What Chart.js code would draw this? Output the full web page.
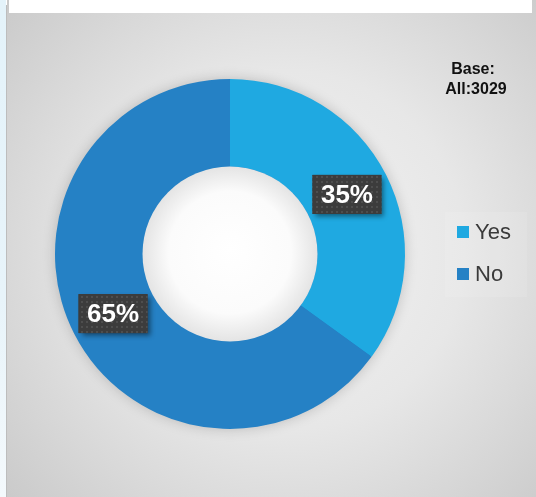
<!DOCTYPE html>
<html><head><meta charset="utf-8">
<script src="https://cdn.jsdelivr.net/npm/chart.js@4.4.0/dist/chart.umd.min.js"></script>
<style>html,body{margin:0;padding:0;background:#fff;}#wrap{width:536px;height:497px;position:relative;}</style>
</head><body><div id="wrap"><canvas id="c" width="536" height="497"></canvas></div>
<script>
const categories = ["Yes", "No"];
const values = [35, 65];
const colors = ["#1FA9E1", "#2581C5"];
const baseLines = ["Base:", "All:3029"];

function makePattern(ctx){
  const p = document.createElement('canvas'); p.width = 5; p.height = 5;
  const g = p.getContext('2d');
  g.fillStyle = '#3c3c3c'; g.fillRect(0,0,5,5);
  g.fillStyle = '#4e4e4e'; g.fillRect(1,1,2,2);
  return ctx.createPattern(p,'repeat');
}

const bgPlugin = {
  id:'bg',
  beforeDraw(chart){
    const ctx = chart.ctx; const W = chart.width, H = chart.height;
    ctx.save();
    ctx.fillStyle = '#ffffff'; ctx.fillRect(0,0,W,H);
    const lg = ctx.createLinearGradient(0,0,0,H);
    lg.addColorStop(0,'#e4f3fa'); lg.addColorStop(0.6,'#e8f4fa'); lg.addColorStop(1,'#f4f9fc');
    ctx.fillStyle = lg; ctx.fillRect(0,0,6,H);
    ctx.fillStyle = '#bdbdbd'; ctx.fillRect(6,5,2,H-5);
    const rg = ctx.createRadialGradient(285,250,0,285,250,400);
    rg.addColorStop(0,'#f3f3f3'); rg.addColorStop(0.45,'#e7e7e7'); rg.addColorStop(1,'#c6c6c6');
    ctx.fillStyle = rg; ctx.fillRect(7,0,W-7,H);
    ctx.fillStyle = '#ffffff'; ctx.fillRect(9,0,523,13);
    ctx.restore();
  },
  beforeDatasetsDraw(chart){
    const arc = chart.getDatasetMeta(0).data[0];
    if(!arc) return;
    const ctx = chart.ctx;
    ctx.save();
    ctx.shadowColor = 'rgba(0,0,0,0.22)'; ctx.shadowBlur = 14;
    ctx.fillStyle = '#2581C5';
    ctx.beginPath(); ctx.arc(arc.x, arc.y, arc.outerRadius-1, 0, Math.PI*2); ctx.fill();
    ctx.restore();
  },
  afterDatasetsDraw(chart){
    const arc = chart.getDatasetMeta(0).data[0];
    if(!arc) return;
    const ctx = chart.ctx;
    ctx.save();
    const r = arc.innerRadius;
    const g = ctx.createRadialGradient(arc.x, arc.y-5, 0, arc.x, arc.y, r);
    g.addColorStop(0,'#ffffff'); g.addColorStop(0.7,'#fbfbfb'); g.addColorStop(1,'#e4e4e4');
    ctx.fillStyle = g;
    ctx.beginPath(); ctx.arc(arc.x, arc.y, r, 0, Math.PI*2); ctx.fill();
    ctx.restore();
  },
  afterDraw(chart){
    const ctx = chart.ctx;
    ctx.save();
    ctx.fillStyle = '#111'; ctx.font = 'bold 16px "Liberation Sans", Arial, sans-serif';
    ctx.textAlign = 'center'; ctx.textBaseline = 'middle';
    ctx.fillText(baseLines[0], 473, 70);
    ctx.fillText(baseLines[1], 476, 90);
    ctx.fillStyle = 'rgba(255,255,255,0.1)'; ctx.fillRect(445,212,82,85);
    ctx.font = '22px "Liberation Sans", Arial, sans-serif'; ctx.textAlign='left';
    categories.forEach((c,i)=>{
      const y = 232 + i*42;
      ctx.fillStyle = colors[i]; ctx.fillRect(457,y-6,12,12);
      ctx.fillStyle = '#3a3a3a'; ctx.fillText(c, 475, y+1);
    });
    const meta = chart.getDatasetMeta(0);
    const pat = makePattern(ctx);
    const total = values.reduce((a,b)=>a+b,0);
    meta.data.forEach((arc,i)=>{
      const p = arc.tooltipPosition();
      const txt = Math.round(values[i]/total*100)+'%';
      const w = 69, h = 39;
      ctx.save();
      ctx.shadowColor = 'rgba(0,0,0,0.45)'; ctx.shadowBlur = 5; ctx.shadowOffsetX = 3; ctx.shadowOffsetY = 3;
      ctx.fillStyle = '#3c3c3c';
      ctx.fillRect(p.x-w/2, p.y-h/2, w, h);
      ctx.restore();
      ctx.fillStyle = pat; ctx.fillRect(p.x-w/2, p.y-h/2, w, h);
      ctx.fillStyle = '#ffffff'; ctx.font = 'bold 26px "Liberation Sans", Arial, sans-serif';
      ctx.textAlign = 'center'; ctx.textBaseline = 'middle';
      ctx.fillText(txt, p.x, p.y+1);
    });
    ctx.restore();
  }
};

new Chart(document.getElementById('c'), {
  type:'doughnut',
  data:{ labels: categories, datasets:[{ data: values, backgroundColor: colors, borderWidth: 0 }]},
  options:{
    responsive:false, animation:false, cutout:'50%',
    layout:{ padding:{ left:55, right:131, top:79, bottom:68 } },
    plugins:{ legend:{display:false}, tooltip:{enabled:false} }
  },
  plugins:[bgPlugin]
});
</script></body></html>
